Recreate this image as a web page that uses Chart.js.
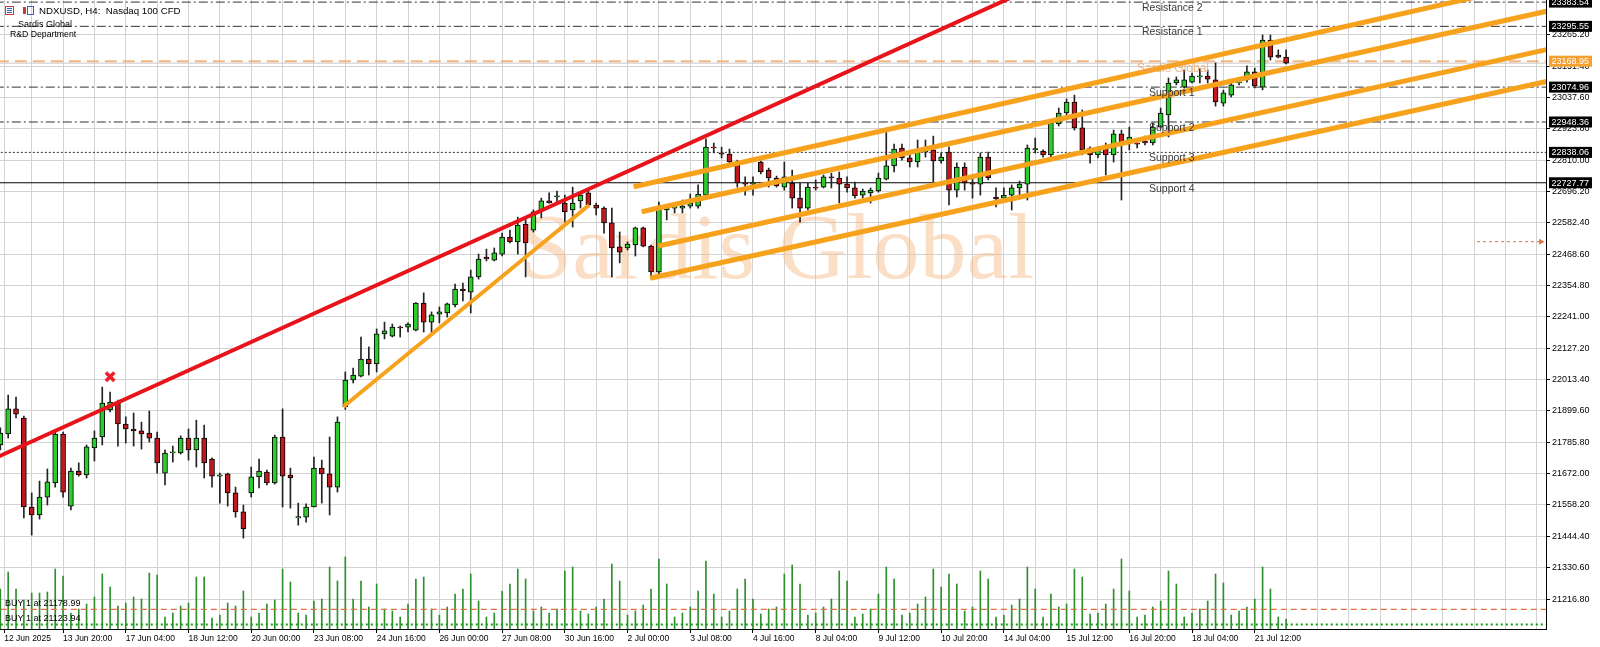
<!DOCTYPE html>
<html><head><meta charset="utf-8">
<script src="https://cdn.jsdelivr.net/npm/chart.js@4.4.1/dist/chart.umd.min.js"></script>
<style>html,body{margin:0;padding:0;background:#fff;overflow:hidden}</style>
</head><body>
<canvas id="c" width="1600" height="647"></canvas>
<script>
// ---------------- DATA ----------------
const opens = [21776,21816,21907,21874,21551,21522,21587,21638,21816,21554,21681,21667,21765,21805,21903,21928,21852,21834,21827,21819,
21801,21674,21747,21747,21801,21758,21801,21725,21663,21671,21602,21533,21602,21660,21678,21638,21805,21667,21511,21514,
21551,21692,21671,21623,21914,22012,22026,22088,22070,22179,22171,22204,22204,22193,22291,22222,22251,22255,22284,22342,
22331,22386,22458,22447,22469,22531,22513,22578,22556,22629,22662,22676,22654,22629,22662,22691,22647,22636,22582,22495,
22491,22502,22564,22498,22404,22629,22636,22636,22643,22643,22683,22857,22836,22832,22792,22727,22723,22803,22774,22745,
22712,22727,22672,22636,22712,22712,22749,22745,22723,22709,22683,22691,22698,22741,22789,22854,22818,22803,22839,22847,
22807,22839,22701,22785,22727,22723,22821,22676,22672,22683,22709,22723,22847,22843,22829,22941,22981,23021,22927,22854,
22829,22850,22829,22905,22872,22872,22879,22872,22930,22974,23090,23075,23093,23112,23115,23101,23017,23046,23090,23101,
23130,23075,23246,23191,23184];
const highs = [21838,21957,21950,21881,21602,21645,21689,21823,21823,21692,21711,21776,21827,21986,21968,21939,21878,21892,21859,21899,
21823,21758,21772,21809,21834,21866,21848,21729,21674,21674,21623,21558,21696,21725,21685,21812,21907,21692,21565,21562,
21732,21721,21805,21878,22041,22055,22168,22132,22197,22222,22215,22208,22219,22293,22328,22259,22277,22291,22360,22364,
22411,22469,22487,22491,22545,22556,22603,22600,22629,22672,22691,22698,22683,22712,22694,22698,22654,22640,22636,22549,
22513,22567,22567,22502,22658,22647,22647,22665,22687,22720,22887,22872,22857,22850,22810,22749,22749,22807,22781,22752,
22803,22774,22727,22727,22738,22756,22763,22767,22749,22730,22705,22709,22763,22912,22868,22868,22829,22883,22883,22897,
22836,22858,22800,22800,22749,22836,22839,22709,22709,22720,22734,22865,22890,22847,22956,22999,23032,23046,22992,22858,
22858,22872,22919,22919,22930,22883,22897,22945,22999,23108,23112,23137,23126,23141,23137,23163,23064,23093,23108,23152,
23144,23264,23264,23210,23210];
const lows = [21758,21801,21874,21511,21449,21507,21558,21623,21587,21540,21663,21656,21718,21776,21896,21772,21783,21772,21761,21787,
21674,21631,21714,21743,21721,21696,21656,21623,21565,21554,21514,21438,21587,21620,21631,21634,21551,21547,21485,21496,
21551,21565,21522,21605,21905,22001,22023,22030,22041,22161,22168,22168,22186,22190,22186,22182,22219,22240,22277,22299,
22255,22378,22444,22444,22462,22509,22469,22386,22549,22600,22654,22658,22585,22567,22636,22643,22611,22545,22386,22437,
22484,22462,22495,22386,22389,22593,22618,22618,22636,22636,22680,22836,22818,22792,22712,22683,22683,22760,22712,22712,
22701,22636,22585,22629,22701,22709,22709,22654,22694,22672,22672,22654,22694,22738,22767,22810,22785,22785,22821,22731,
22799,22647,22676,22701,22672,22683,22738,22640,22658,22629,22680,22665,22836,22821,22821,22934,22974,22919,22829,22799,
22818,22756,22803,22665,22847,22854,22865,22865,22927,22894,23083,23072,23090,23090,23090,23006,23006,23039,23083,23093,
23072,23065,23173,23181,23159];
const closes = [21819,21907,21888,21551,21522,21587,21642,21816,21605,21681,21667,21769,21801,21928,21932,21852,21834,21827,21816,21801,
21711,21747,21751,21801,21758,21801,21711,21663,21668,21602,21533,21471,21660,21681,21638,21805,21663,21656,21516,21551,
21692,21671,21623,21859,22012,22030,22088,22070,22179,22190,22204,22201,22215,22291,22222,22248,22259,22288,22342,22335,
22386,22451,22451,22473,22531,22513,22574,22509,22622,22662,22655,22680,22622,22654,22683,22647,22636,22582,22491,22476,
22505,22564,22498,22404,22632,22640,22641,22643,22654,22687,22857,22854,22832,22803,22727,22723,22727,22767,22745,22716,
22749,22672,22636,22712,22708,22749,22745,22723,22709,22680,22698,22701,22745,22789,22850,22818,22803,22839,22847,22807,
22821,22701,22785,22727,22723,22821,22745,22669,22683,22709,22723,22854,22852,22829,22945,22981,23021,22927,22847,22829,
22847,22829,22905,22876,22894,22868,22872,22930,22981,23090,23101,23101,23115,23116,23104,23021,23054,23083,23094,23130,
23079,23246,23184,23184,23162];
const volumes = [1600,2280,1600,1160,1440,1440,1480,2400,2120,640,800,1000,1280,2200,1680,920,1040,1280,1200,2240,
2160,480,640,920,1040,2080,2080,440,560,1040,920,1520,480,640,1000,1160,2400,1880,640,560,
1120,1200,2480,1920,2880,1200,1920,880,1800,800,720,480,1000,2000,2080,800,560,880,1400,1600,
2200,1120,480,640,1520,1800,2400,2000,720,880,640,800,2320,2480,720,600,880,1200,2600,1920,
560,720,960,1600,2800,1800,480,640,880,1520,2720,1400,480,720,1600,2000,1200,600,800,880,
2200,2560,1800,560,640,880,1200,2320,1920,480,600,800,1400,2480,2000,560,640,1000,1280,2400,
1680,2200,1800,720,880,2320,2000,480,560,960,1200,2480,1600,480,1400,880,1000,2400,2080,600,
640,1000,1600,2800,1520,480,560,880,1120,2320,1800,480,640,800,1120,2200,1840,560,720,880,
1200,2480,1600,480,400];
const xLabelIndex = [0.5,8,16,24,32,40,48,56,64,72,80,88,96,104,112,120,128,136,144,152,160];
const xLabelText = ["12 Jun 2025","13 Jun 20:00","17 Jun 04:00","18 Jun 12:00","20 Jun 00:00","23 Jun 08:00","24 Jun 16:00",
"26 Jun 00:00","27 Jun 08:00","30 Jun 16:00","2 Jul 00:00","3 Jul 08:00","4 Jul 16:00","8 Jul 04:00","9 Jul 12:00",
"10 Jul 20:00","14 Jul 04:00","15 Jul 12:00","16 Jul 20:00","18 Jul 04:00","21 Jul 12:00"];
const yTickValues = [21216.80,21330.60,21444.40,21558.20,21672.00,21785.80,21899.60,22013.40,22127.20,22241.00,
22354.80,22468.60,22582.40,22696.20,22810.00,22923.80,23037.60,23151.40,23265.20];
const levelNames = ["Resistance 2","Resistance 1","Support 1","Support 2","Support 3","Support 4"];
const levelValues = [23383.54,23295.55,23074.96,22948.36,22838.06,22727.77];
const sardisLevel = 23168.95;
const buyLevels = [21178.99,21123.94];
const buyTexts = ["BUY 1 at 21178.99","BUY 1 at 21123.94"];
const redLine = [[-1,21724],[130,23414]];
const riseLine = [[43.75,21915],[75.1,22647]];
const channelA = [[80.78,22713.5],[204,23503]];
const channelB = [[81.8,22622.7],[204,23393]];
const channelC = [[83.93,22498.2],[204,23253.6]];
const channelD = [[82.87,22381.0],[204,23137.8]];
const crossMark = [14,22024];
const shiftArrow = [[188.35,22514],[196.5,22514]];

// ---------------- SETUP ----------------
const X_MIN = -0.0434, X_MAX = 197.15;
const Y_MIN = 21108.05, Y_MAX = 23391.15;
const VOL_MAX = 25160;
const GREEN = '#2ccc2c', RED = '#c1181d';
const pts = arr => arr.map(p => ({x:p[0], y:p[1]}));
const hline = v => [{x:X_MIN-5,y:v},{x:X_MAX+5,y:v}];
const dashDot = [9,3,2,3];
const levelDash = [dashDot,dashDot,dashDot,dashDot,[2,2],[]];

const wickData = opens.map((o,i)=>({x:i,y:[lows[i],highs[i]]}));
const bodyData = opens.map((o,i)=>({x:i,y:[opens[i],closes[i]]}));
const bodyColors = opens.map((o,i)=> closes[i]>=opens[i] ? GREEN : RED);
const volData = volumes.map((v,i)=>({x:i,y:v}));

const lineDs = (data, color, width, dash, order, extra) => Object.assign({
  type:'line', data, borderColor:color, borderWidth:width, borderDash:dash||[], pointRadius:0,
  fill:false, tension:0, clip:0, order
}, extra||{});

const datasets = [];
datasets.push({type:'bar', data:volData, yAxisID:'yv', backgroundColor:'#2f8f2f', barThickness:1, grouped:false, order:30});
levelValues.forEach((v,k)=> datasets.push(lineDs(hline(v), k===5?'#000':'#333', 1, levelDash[k], 25)));
datasets.push(lineDs(hline(sardisLevel), 'rgba(240,170,110,0.85)', 2, [12,6], 24));
datasets.push(lineDs(hline(closes[closes.length-1]), '#c8c8c8', 1, [], 24));
datasets.push(lineDs(hline(buyLevels[0]), '#e07040', 1.3, [6,4], 24));
datasets.push(lineDs(hline(buyLevels[1]), '#10a010', 2, [2,3], 24));
datasets.push(lineDs(pts(shiftArrow), '#e07040', 1, [3,3], 24, {
  pointRadius:[0,3.5], pointStyle:'triangle', rotation:90, pointBackgroundColor:'#e07040', pointBorderWidth:0, clip:false}));
datasets.push({type:'bar', data:wickData, backgroundColor:'#222', barThickness:1, grouped:false, order:20});
datasets.push({type:'bar', data:bodyData, backgroundColor:bodyColors, borderColor:'#000', borderWidth:1,
  borderSkipped:false, barThickness:5, grouped:false, order:19});
datasets.push(lineDs(pts(riseLine), '#f7a21c', 4, [], 6));
[channelA,channelB,channelC,channelD].forEach(c=> datasets.push(lineDs(pts(c), '#f7a21c', 5, [], 5)));
datasets.push(lineDs(pts(redLine), '#e8141c', 4, [], 4));
datasets.push({type:'scatter', data:[{x:crossMark[0],y:crossMark[1]}], pointStyle:'crossRot', pointRadius:6,
  borderColor:'#f0202a', borderWidth:3.5, order:1, clip:false});

const overlay = {
  id:'overlay',
  beforeDatasetsDraw(chart){
    const ctx = chart.ctx, a = chart.chartArea;
    ctx.save();
    ctx.beginPath(); ctx.rect(a.left,a.top,a.right-a.left,a.bottom-a.top); ctx.clip();
    ctx.font = '94px "Liberation Serif"';
    ctx.fillStyle = 'rgba(245,190,140,0.5)';
    ctx.textBaseline = 'alphabetic'; ctx.textAlign = 'left';
    ctx.fillText('Sardis Global', 520, 278);
    ctx.restore();
  },
  afterDatasetsDraw(chart){
    const ctx = chart.ctx, y = chart.scales.y;
    ctx.save();
    ctx.textBaseline = 'middle'; ctx.textAlign = 'left';
    ctx.font = '10.5px "Liberation Sans"';
    ctx.fillStyle = '#3a3a3a';
    levelNames.forEach((n,k)=>{
      const px = n.startsWith('Res') ? 1142 : 1149;
      ctx.fillText(n, px, Math.max(y.getPixelForValue(levelValues[k])+6, 7));
    });
    ctx.font = '12px "Liberation Sans"';
    ctx.fillStyle = 'rgba(240,160,95,0.75)';
    ctx.fillText('Sardis Global', 1137, y.getPixelForValue(sardisLevel)+7);
    ctx.font = '9px "Liberation Sans"';
    ctx.fillStyle = '#000';
    buyTexts.forEach((t,k)=> ctx.fillText(t, 5, y.getPixelForValue(buyLevels[k]) - 6));
    // header
    ctx.font = '9.7px "Liberation Sans"';
    ctx.fillText('NDXUSD, H4:  Nasdaq 100 CFD', 39, 11);
    ctx.font = '9px "Liberation Sans"';
    ctx.fillText('Sardis Global', 18, 25);
    ctx.font = '8.7px "Liberation Sans"';
    ctx.fillText('R&D Department', 10, 35);
    // icons
    ctx.lineWidth = 1;
    ctx.strokeStyle = '#d23a3a'; ctx.strokeRect(5.5,6.5,8,8);
    ctx.strokeStyle = '#3060c0';
    [8.5,10.5,12.5].forEach(yy=>{ctx.beginPath();ctx.moveTo(7,yy);ctx.lineTo(12,yy);ctx.stroke();});
    ctx.fillStyle = '#d23a3a'; ctx.fillRect(23,7,3,7);
    ctx.strokeStyle = '#3060c0'; ctx.strokeRect(27.5,6.5,6,8);
    ctx.restore();
  },
  afterDraw(chart){
    const ctx = chart.ctx, y = chart.scales.y, a = chart.chartArea;
    ctx.save();
    ctx.font = '9px "Liberation Sans"';
    ctx.textBaseline = 'middle'; ctx.textAlign = 'left';
    const boxes = levelValues.map(v=>[v,'#000']);
    boxes.push([sardisLevel,'#f5a030']);
    boxes.forEach(([v,c])=>{
      const py = y.getPixelForValue(v);
      ctx.fillStyle = c; ctx.fillRect(a.right+3, py-5.5, 43, 11);
      ctx.fillStyle = '#fff'; ctx.fillText(v.toFixed(2), a.right+5.5, py+0.5);
    });
    ctx.restore();
  }
};

new Chart(document.getElementById('c'), {
  type:'bar',
  data:{datasets},
  plugins:[overlay],
  options:{
    responsive:false, animation:false, devicePixelRatio:1,
    layout:{padding:0, autoPadding:false},
    plugins:{legend:{display:false}, tooltip:{enabled:false}},
    scales:{
      x:{type:'linear', position:'bottom', min:X_MIN, max:X_MAX, offset:false, bounds:'data',
        grid:{offset:false, color:'#d2d2d2', borderDash:[3,3], drawTicks:true, tickLength:4,
          tickColor: c => (xLabelIndex.indexOf(c.tick && c.tick.value) >= 0 ? '#000' : 'rgba(0,0,0,0)')},
        border:{display:true, color:'#000', width:1},
        ticks:{autoSkip:false, maxRotation:0, minRotation:0, align:'start', padding:1, color:'#000',
          font:{family:'Liberation Sans', size:8.5},
          callback: v => { const k = xLabelIndex.indexOf(v); return k>=0 ? xLabelText[k] : ''; }},
        afterBuildTicks: s => { const t=[{value:xLabelIndex[0]}]; for(let k=4;k<=196;k+=4) t.push({value:k}); s.ticks=t; },
        afterFit: s => { s.height = 18; s.paddingLeft=0; s.paddingRight=0; s.paddingTop=0; s.paddingBottom=0; }
      },
      y:{type:'linear', position:'right', min:Y_MIN, max:Y_MAX, beginAtZero:false, bounds:'data',
        grid:{color:'#d2d2d2', borderDash:[3,3], drawTicks:true, tickLength:4, tickColor:'#000'},
        border:{display:true, color:'#000', width:1},
        ticks:{padding:2, color:'#000', font:{family:'Liberation Sans', size:9}, callback: v => Number(v).toFixed(2)},
        afterBuildTicks: s => { s.ticks = yTickValues.map(v=>({value:v})); },
        afterFit: s => { s.width = 54; s.paddingLeft=0; s.paddingRight=0; s.paddingTop=0; s.paddingBottom=0; }
      },
      yv:{type:'linear', display:false, min:0, max:VOL_MAX, beginAtZero:true}
    }
  }
});
</script>
</body></html>
